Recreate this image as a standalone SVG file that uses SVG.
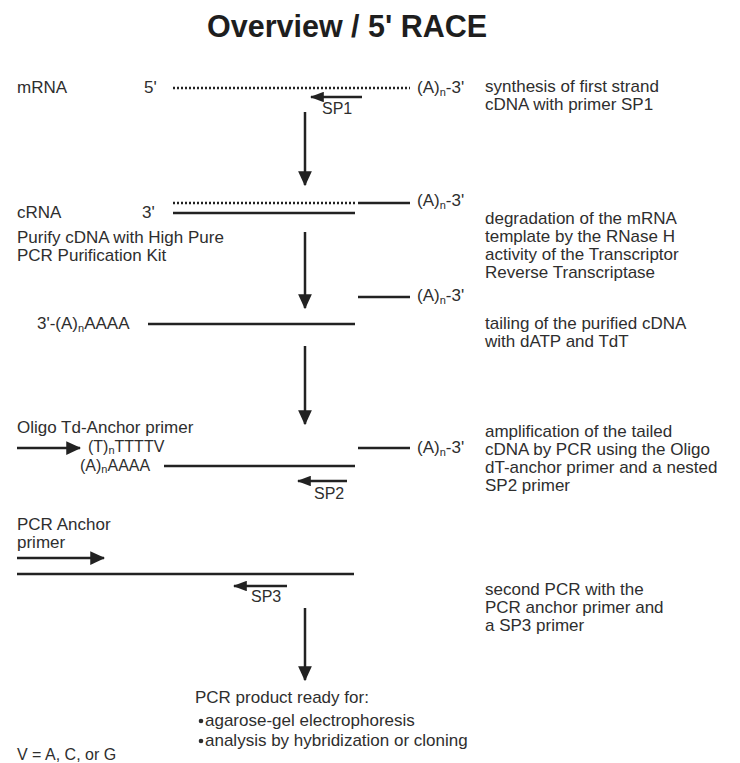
<svg xmlns="http://www.w3.org/2000/svg" width="740" height="763" viewBox="0 0 740 763">
<defs>
<style>
text{font-family:"Liberation Sans",Arial,sans-serif;fill:#2e2e2e;font-size:17px}
.t{font-weight:bold;font-size:30.5px;fill:#1e1e1e}
.r{font-size:17px}
.s{font-size:16px}
.sub{font-size:11px}
.ln{stroke:#222;stroke-width:2.5;fill:none}
.dot{stroke:#222;stroke-width:2.5;fill:none;stroke-dasharray:2 2}
.ar{stroke:#222;stroke-width:2.5;fill:none}
</style>
<marker id="ah" viewBox="0 0 12 11" refX="11" refY="5.5" markerWidth="6" markerHeight="5.5" orient="auto" markerUnits="strokeWidth">
<path d="M0,0 L12,5.5 L0,11 z" fill="#222"/>
</marker>
<marker id="hh" viewBox="0 0 12 9" refX="11" refY="4.5" markerWidth="5.6" markerHeight="4.2" orient="auto" markerUnits="strokeWidth">
<path d="M0,0 L12,4.5 L0,9 z" fill="#222"/>
</marker>
</defs>
<rect width="740" height="763" fill="#fff"/>
<g id="title"><text class="t" x="207" y="37">Overview / 5' RACE</text></g>

<g id="step1">
<text x="17" y="93">mRNA</text>
<text x="144" y="93">5'</text>
<line class="dot" x1="173" y1="88" x2="410" y2="88"/>
<text x="417" y="93">(A)<tspan class="sub" dy="3">n</tspan><tspan dy="-3">-3'</tspan></text>
<text class="r" x="485" y="92">synthesis of first strand</text>
<text class="r" x="485" y="110">cDNA with primer SP1</text>
<line class="ar" x1="362" y1="97" x2="311" y2="97" marker-end="url(#hh)"/>
<text class="s" x="322" y="114">SP1</text>
</g>

<g id="step2">
<text x="17" y="218">cRNA</text>
<text x="142" y="218">3'</text>
<line class="dot" x1="173" y1="203" x2="356" y2="203"/>
<line class="ln" x1="358" y1="203" x2="410" y2="203"/>
<line class="ln" x1="173" y1="213" x2="355" y2="213"/>
<text x="417" y="206">(A)<tspan class="sub" dy="3">n</tspan><tspan dy="-3">-3'</tspan></text>
<text class="r" x="17" y="243">Purify cDNA with High Pure</text>
<text class="r" x="17" y="261">PCR Purification Kit</text>
<text class="r" x="485" y="224">degradation of the mRNA</text>
<text class="r" x="485" y="242">template by the RNase H</text>
<text class="r" x="485" y="260">activity of the Transcriptor</text>
<text class="r" x="485" y="278">Reverse Transcriptase</text>
</g>

<g id="step3">
<line class="ln" x1="358" y1="297" x2="410" y2="297"/>
<text x="417" y="301">(A)<tspan class="sub" dy="3">n</tspan><tspan dy="-3">-3'</tspan></text>
<text x="37" y="329">3'-(A)<tspan class="sub" dy="3">n</tspan><tspan dy="-3">AAAA</tspan></text>
<line class="ln" x1="148" y1="324" x2="355" y2="324"/>
<text class="r" x="485" y="329">tailing of the purified cDNA</text>
<text class="r" x="485" y="347">with dATP and TdT</text>
</g>

<g id="step4">
<text class="r" x="17" y="433">Oligo Td-Anchor primer</text>
<line class="ar" x1="17" y1="448" x2="80" y2="448" marker-end="url(#ah)"/>
<text class="s" x="88" y="452">(T)<tspan class="sub" dy="2">n</tspan><tspan dy="-2">TTTTV</tspan></text>
<text class="s" x="80" y="471">(A)<tspan class="sub" dy="2">n</tspan><tspan dy="-2">AAAA</tspan></text>
<line class="ln" x1="164" y1="466" x2="355" y2="466"/>
<line class="ln" x1="358" y1="448" x2="410" y2="448"/>
<text x="417" y="453">(A)<tspan class="sub" dy="3">n</tspan><tspan dy="-3">-3'</tspan></text>
<line class="ar" x1="347" y1="481" x2="298" y2="481" marker-end="url(#hh)"/>
<text class="s" x="314" y="499">SP2</text>
<text class="r" x="485" y="437">amplification of the tailed</text>
<text class="r" x="485" y="455">cDNA by PCR using the Oligo</text>
<text class="r" x="485" y="473">dT-anchor primer and a nested</text>
<text class="r" x="485" y="491">SP2 primer</text>
</g>

<g id="step5">
<text class="r" x="17" y="530">PCR Anchor</text>
<text class="r" x="17" y="548">primer</text>
<line class="ar" x1="17" y1="558" x2="104" y2="558" marker-end="url(#ah)"/>
<line class="ln" x1="17" y1="574" x2="354" y2="574"/>
<line class="ar" x1="287" y1="586" x2="234" y2="586" marker-end="url(#hh)"/>
<text class="s" x="251" y="602">SP3</text>
<text class="r" x="485" y="595">second PCR with the</text>
<text class="r" x="485" y="613">PCR anchor primer and</text>
<text class="r" x="485" y="631">a SP3 primer</text>
</g>

<g id="result">
<text class="r" x="195" y="703">PCR product ready for:</text>
<circle cx="201" cy="721" r="2.3" fill="#2e2e2e"/>
<text class="r" x="205" y="726">agarose-gel electrophoresis</text>
<circle cx="201" cy="741" r="2.3" fill="#2e2e2e"/>
<text class="r" x="205" y="746">analysis by hybridization or cloning</text>
<text class="s" x="17" y="760">V = A, C, or G</text>
</g>

<g id="connectors">
<line class="ar" x1="305" y1="112" x2="305" y2="185" marker-end="url(#ah)"/>
<line class="ar" x1="305" y1="232" x2="305" y2="308" marker-end="url(#ah)"/>
<line class="ar" x1="305" y1="346" x2="305" y2="424" marker-end="url(#ah)"/>
<line class="ar" x1="305" y1="608" x2="305" y2="680" marker-end="url(#ah)"/>
</g>
</svg>
